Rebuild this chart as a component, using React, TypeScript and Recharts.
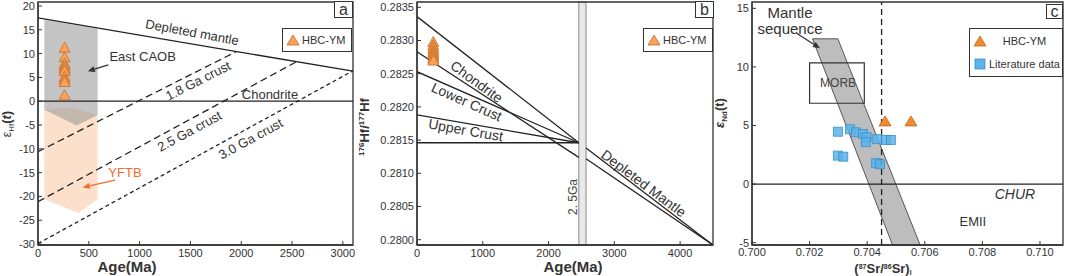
import React from 'react';
import {
  ComposedChart,
  XAxis,
  YAxis,
  Line,
  Scatter,
  ReferenceArea,
  ReferenceLine,
  ReferenceDot,
  Legend,
} from 'recharts';

const FONT = '"Liberation Sans", Arial, sans-serif';
const INK = '#333';

type Pt = { x: number; y: number };

// ---------- panel a : eHf(t) vs age ----------
const aDepletedMantle: Pt[] = [{ x: 0, y: 17.5 }, { x: 3100, y: 6.3 }];
const aChondrite: Pt[] = [{ x: 0, y: 0 }, { x: 3100, y: 0 }];
const aCrust18: Pt[] = [{ x: 0, y: -10.6 }, { x: 1954, y: 10.45 }];
const aCrust25: Pt[] = [{ x: 0, y: -21.1 }, { x: 2545, y: 8.3 }];
const aCrust30: Pt[] = [{ x: 0, y: -29.9 }, { x: 3100, y: 6.4 }];
const aEastCAOB: Pt[] = [
  { x: 62, y: 17.1 }, { x: 587, y: 15.2 }, { x: 587, y: -2.9 }, { x: 381, y: -5.1 }, { x: 62, y: -1.8 },
];
const aYFTB: Pt[] = [
  { x: 62, y: -1.8 }, { x: 331, y: -1.3 }, { x: 587, y: -2.9 }, { x: 587, y: -20.6 }, { x: 397, y: -23.5 }, { x: 62, y: -20.6 },
];
const aAge = [262, 262, 262, 262, 262, 262, 262, 262, 262, 262];
const aEpsHf = [11.0, 9.0, 7.6, 7.1, 6.6, 6.1, 4.9, 4.3, 3.8, 1.0];
const aTicksX = [0, 500, 1000, 1500, 2000, 2500, 3000];
const aTicksY = [-30, -25, -20, -15, -10, -5, 0, 5, 10, 15, 20];

// ---------- panel b : 176Hf/177Hf vs age ----------
const bDM1: Pt[] = [{ x: 0, y: 0.28336 }, { x: 2460, y: 0.28146 }];
const bDM2: Pt[] = [{ x: 2570, y: 0.28138 }, { x: 4500, y: 0.27992 }];
const bChon1: Pt[] = [{ x: 0, y: 0.28283 }, { x: 2460, y: 0.28124 }];
const bChon2: Pt[] = [{ x: 2570, y: 0.28122 }, { x: 4500, y: 0.27992 }];
const bLower: Pt[] = [{ x: 0, y: 0.28253 }, { x: 2460, y: 0.28146 }];
const bUpper: Pt[] = [{ x: 0, y: 0.28188 }, { x: 2460, y: 0.28146 }];
const bFlat: Pt[] = [{ x: 0, y: 0.28146 }, { x: 2460, y: 0.28146 }];
const bBand = [2460, 2570];
const bAge = [248, 248, 248, 248, 248, 248, 248, 248, 248];
const bHf = [0.28296, 0.28291, 0.28287, 0.28283, 0.2828, 0.28277, 0.28274, 0.28271, 0.28268];
const bTicksX = [0, 1000, 2000, 3000, 4000];
const bTicksY = [0.28, 0.2805, 0.281, 0.2815, 0.282, 0.2825, 0.283, 0.2835];

// ---------- panel c : eNd(t) vs (87Sr/86Sr)i ----------
const cChur: Pt[] = [{ x: 0.7, y: 0 }, { x: 0.7108, y: 0 }];
const cDashed: Pt[] = [{ x: 0.7045, y: -5.2 }, { x: 0.7045, y: 15.54 }];
const cMantleSeq: Pt[] = [
  { x: 0.7021, y: 12.4 }, { x: 0.70298, y: 12.4 }, { x: 0.70584, y: -5.2 }, { x: 0.70488, y: -5.2 },
];
const cMorb = { x1: 0.702, x2: 0.7039, y1: 6.9, y2: 10.35 };
const cSrHBC = [0.70462, 0.70552];
const cNdHBC = [5.25, 5.25];
const cSrLit = [0.70298, 0.7034, 0.70361, 0.70386, 0.70398, 0.70395, 0.70435, 0.70465, 0.70482, 0.70431, 0.70444, 0.70298, 0.70317];
const cNdLit = [4.47, 4.68, 4.42, 4.28, 3.99, 3.57, 3.83, 3.77, 3.77, 1.78, 1.69, 2.43, 2.34];
const cTicksX = [0.7, 0.702, 0.704, 0.706, 0.708, 0.71];
const cTicksY = [-5, 0, 5, 10, 15];

const zip = (xs: number[], ys: number[]) => xs.map((x, i) => ({ x, y: ys[i] }));

// ---------- shapes ----------
const triangle = (fill: string, stroke: string, w = 11, h = 10) => (p: any) => {
  const { cx, cy } = p;
  if (cx == null || cy == null) return <g />;
  return (
    <polygon
      points={`${cx},${cy - (h * 2) / 3} ${cx + w / 2},${cy + h / 3} ${cx - w / 2},${cy + h / 3}`}
      fill={fill}
      stroke={stroke}
      strokeWidth={0.8}
    />
  );
};

const square = (p: any) => {
  const { cx, cy } = p;
  if (cx == null || cy == null) return <g />;
  return <rect x={cx - 4.5} y={cy - 4.5} width={9} height={9} fill="#5bb3e6" fillOpacity={0.85} stroke="#3a8fd0" strokeWidth={0.8} />;
};

// polygon drawn inside the bounding ReferenceArea (scales are linear)
const polygon = (pts: Pt[], fill: string, opacity = 1, stroke = 'none') => {
  const xs = pts.map((p) => p.x);
  const ys = pts.map((p) => p.y);
  const x1 = Math.min(...xs), x2 = Math.max(...xs), y1 = Math.min(...ys), y2 = Math.max(...ys);
  return (
    <ReferenceArea
      x1={x1}
      x2={x2}
      y1={y1}
      y2={y2}
      ifOverflow="visible"
      shape={(r: any) => {
        const d = pts
          .map((p) => `${r.x + ((p.x - x1) / (x2 - x1)) * r.width},${r.y + ((y2 - p.y) / (y2 - y1)) * r.height}`)
          .join(' ');
        return <polygon points={d} fill={fill} fillOpacity={opacity} stroke={stroke} strokeWidth={0.8} />;
      }}
    />
  );
};

const arrow = (from: Pt, to: Pt, color: string) => (
  <ReferenceLine
    segment={[from, to]}
    ifOverflow="visible"
    shape={(p: any) => {
      const { x1, y1, x2, y2 } = p;
      const a = Math.atan2(y2 - y1, x2 - x1);
      const L = 7, W = 3;
      const bx = x2 - L * Math.cos(a), by = y2 - L * Math.sin(a);
      const nx = -Math.sin(a) * W, ny = Math.cos(a) * W;
      return (
        <g>
          <line x1={x1} y1={y1} x2={bx} y2={by} stroke={color} strokeWidth={1.3} />
          <polygon points={`${x2},${y2} ${bx + nx},${by + ny} ${bx - nx},${by - ny}`} fill={color} />
        </g>
      );
    }}
  />
);

const note = (x: number, y: number, text: React.ReactNode, size = 13, rot = 0, color = INK, extra: any = {}) => (
  <ReferenceDot
    x={x}
    y={y}
    r={0}
    ifOverflow="visible"
    shape={(p: any) => (
      <text
        x={p.cx}
        y={p.cy}
        transform={rot ? `rotate(${rot} ${p.cx} ${p.cy})` : undefined}
        textAnchor="middle"
        dominantBaseline="central"
        fontSize={size}
        fill={color}
        fontFamily={FONT}
        {...extra}
      >
        {text}
      </text>
    )}
  />
);

const seg = (data: Pt[], dash?: string) => (
  <Line
    data={data}
    dataKey="y"
    type="linear"
    stroke="#222"
    strokeWidth={1.3}
    strokeDasharray={dash}
    dot={false}
    activeDot={false}
    legendType="none"
    isAnimationActive={false}
  />
);

const frame = (x1: number, x2: number, y1: number, y2: number) => (
  <ReferenceArea x1={x1} x2={x2} y1={y1} y2={y2} fill="none" stroke={INK} strokeWidth={1.3} ifOverflow="visible" />
);

const tickStyle = { fontSize: 11, fill: INK, fontFamily: FONT };
const axisLine = { stroke: INK, strokeWidth: 1.3 };
const tickLine = { stroke: INK, strokeWidth: 1 };

type Row = { icon: 'tri' | 'sq'; label: string; color?: string; center?: boolean };

const legendBox = (w: number, h: number, rows: Row[]) => (
  <div
    style={{
      width: w,
      height: h,
      boxSizing: 'border-box',
      border: `1.3px solid ${INK}`,
      background: '#fff',
      display: 'flex',
      flexDirection: 'column',
      justifyContent: 'space-around',
      padding: '0 2px 0 3px',
      fontFamily: FONT,
      fontSize: 11,
      color: INK,
      whiteSpace: 'nowrap',
    }}
  >
    {rows.map((r) => (
      <div key={r.label} style={{ display: 'flex', alignItems: 'center' }}>
        <svg width={14} height={12} style={{ flex: 'none' }}>
          {r.icon === 'tri' ? (
            <polygon points="7,1 13,11 1,11" fill={r.color || '#f7a35c'} stroke="#c8691f" strokeWidth={0.8} />
          ) : (
            <rect x={2} y={1} width={10} height={10} fill="#5bb3e6" stroke="#3a8fd0" strokeWidth={0.8} />
          )}
        </svg>
        <span style={{ marginLeft: 2, flex: r.center ? 1 : undefined, textAlign: r.center ? 'center' : 'left' }}>{r.label}</span>
      </div>
    ))}
  </div>
);

function PanelA() {
  const xD: [number, number] = [0, 3100];
  const yD: [number, number] = [-30.2, 20.84];
  return (
    <ComposedChart width={355} height={276} margin={{ top: 2, right: 2, bottom: 0, left: 0 }} style={{ fontFamily: FONT }}>
      <XAxis
        type="number"
        dataKey="x"
        domain={xD}
        ticks={aTicksX}
        allowDataOverflow
        height={31}
        tick={tickStyle}
        tickSize={-4}
        tickMargin={8}
        axisLine={axisLine}
        tickLine={tickLine}
        label={{
          content: () => (
            <text x={127} y={272} textAnchor="middle" fontSize={15} fontWeight="bold" fill={INK} fontFamily={FONT}>
              Age(Ma)
            </text>
          ),
        }}
      />
      <YAxis
        type="number"
        dataKey="y"
        domain={yD}
        ticks={aTicksY}
        allowDataOverflow
        width={38}
        tick={tickStyle}
        tickSize={-4}
        tickMargin={7}
        axisLine={axisLine}
        tickLine={tickLine}
        label={{
          content: () => (
            <text transform="translate(11 124) rotate(-90)" textAnchor="middle" fill={INK} fontFamily={FONT} fontSize={12}>
              <tspan>ε</tspan>
              <tspan fontSize={8} dy={3}>Hf</tspan>
              <tspan dy={-3} fontWeight="bold" fontSize={13}>(</tspan>
              <tspan fontWeight="bold" fontStyle="italic" fontSize={13}>t</tspan>
              <tspan fontWeight="bold" fontSize={13}>)</tspan>
            </text>
          ),
        }}
      />
      {polygon(aYFTB, '#fde0cb')}
      {polygon(aEastCAOB, '#9a9a9a', 0.58)}
      {seg(aDepletedMantle)}
      {seg(aChondrite)}
      {seg(aCrust18, '7 4')}
      {seg(aCrust25, '7 4')}
      {seg(aCrust30, '4 3')}
      {note(1516, 14.5, 'Depleted mantle', 13, 10.5)}
      {note(1575, 4.3, '1.8  Ga crust', 13, -26.8)}
      {note(1490, -6.3, '2.5  Ga crust', 13, -28.4)}
      {note(2093, -7.9, '3.0  Ga crust', 13, -28.6)}
      {note(2283, 1.45, 'Chondrite', 13)}
      {note(1030, 9.35, 'East CAOB', 13)}
      {note(856, -14.93, 'YFTB', 13, 0, '#f26b2a')}
      {arrow({ x: 692, y: 7.61 }, { x: 490, y: 6.3 }, '#333')}
      {arrow({ x: 758, y: -16.55 }, { x: 440, y: -18.1 }, '#f26b2a')}
      <Scatter data={zip(aAge, aEpsHf)} dataKey="y" shape={triangle('#f7a35c', '#c8691f')} isAnimationActive={false} legendType="none" />
      {frame(xD[0], xD[1], yD[0], yD[1])}
      <Legend
        layout="horizontal"
        verticalAlign="middle"
        align="center"
        wrapperStyle={{ left: 282, top: 28, width: 70, height: 24 }}
        content={() => legendBox(70, 24, [{ icon: 'tri', label: 'HBC-YM' }])}
      />
    </ComposedChart>
  );
}

function PanelB() {
  const xD: [number, number] = [0, 4500];
  const yD: [number, number] = [0.27992, 0.28358];
  return (
    <ComposedChart width={365} height={276} margin={{ top: 2, right: 2, bottom: 0, left: 0 }} style={{ fontFamily: FONT }}>
      <XAxis
        type="number"
        dataKey="x"
        domain={xD}
        ticks={bTicksX}
        allowDataOverflow
        height={31}
        tick={tickStyle}
        tickSize={-4}
        tickMargin={8}
        axisLine={axisLine}
        tickLine={tickLine}
        label={{
          content: () => (
            <text x={223} y={272} textAnchor="middle" fontSize={15} fontWeight="bold" fill={INK} fontFamily={FONT}>
              Age(Ma)
            </text>
          ),
        }}
      />
      <YAxis
        type="number"
        dataKey="y"
        domain={yD}
        ticks={bTicksY}
        allowDataOverflow
        width={67}
        tick={tickStyle}
        tickFormatter={(v: number) => v.toFixed(4)}
        tickSize={-4}
        tickMargin={7}
        axisLine={axisLine}
        tickLine={tickLine}
        label={{
          content: () => (
            <text transform="translate(19 127) rotate(-90)" textAnchor="middle" fill={INK} fontFamily={FONT} fontSize={13} fontWeight="bold">
              <tspan fontSize={8} dy={-5}>176</tspan>
              <tspan dy={5}>Hf/</tspan>
              <tspan fontSize={8} dy={-5}>177</tspan>
              <tspan dy={5}>Hf</tspan>
            </text>
          ),
        }}
      />
      <ReferenceArea x1={bBand[0]} x2={bBand[1]} y1={yD[0]} y2={yD[1]} fill="#d3d3d3" stroke="#8a8a8a" strokeWidth={1} ifOverflow="visible" />
      {seg(bDM1)}
      {seg(bDM2)}
      {seg(bChon1)}
      {seg(bChon2)}
      {seg(bLower)}
      {seg(bUpper)}
      {seg(bFlat)}
      {note(907, 0.28238, 'Chondrite', 14, 36)}
      {note(756, 0.282078, 'Lower Crust', 14, 24)}
      {note(740, 0.281652, 'Upper Crust', 14, 10)}
      {note(3446, 0.280849, 'Depleted Mantle', 14, 37)}
      {note(2372, 0.280643, '2. 5Ga', 12, -90, '#444')}
      <Scatter data={zip(bAge, bHf)} dataKey="y" shape={triangle('#f7a35c', '#c8691f')} isAnimationActive={false} legendType="none" />
      {frame(xD[0], xD[1], yD[0], yD[1])}
      <Legend
        layout="horizontal"
        verticalAlign="middle"
        align="center"
        wrapperStyle={{ left: 293, top: 28, width: 70, height: 24 }}
        content={() => legendBox(70, 24, [{ icon: 'tri', label: 'HBC-YM' }])}
      />
    </ComposedChart>
  );
}

function PanelC() {
  const xD: [number, number] = [0.7, 0.7108];
  const yD: [number, number] = [-5.2, 15.54];
  return (
    <ComposedChart width={360} height={276} margin={{ top: 2, right: 2, bottom: 0, left: 0 }} style={{ fontFamily: FONT }}>
      <XAxis
        type="number"
        dataKey="x"
        domain={xD}
        ticks={cTicksX}
        allowDataOverflow
        height={31}
        tick={tickStyle}
        tickFormatter={(v: number) => v.toFixed(3)}
        tickSize={-4}
        tickMargin={7}
        axisLine={axisLine}
        tickLine={tickLine}
        label={{
          content: () => (
            <text x={178} y={273} textAnchor="middle" fontSize={13} fontWeight="bold" fill={INK} fontFamily={FONT}>
              <tspan>(</tspan>
              <tspan fontSize={7} dy={-4}>87</tspan>
              <tspan dy={4}>Sr/</tspan>
              <tspan fontSize={7} dy={-4}>86</tspan>
              <tspan dy={4}>Sr)</tspan>
              <tspan fontSize={7} dy={2}>i</tspan>
            </text>
          ),
        }}
      />
      <YAxis
        type="number"
        dataKey="y"
        domain={yD}
        ticks={cTicksY}
        allowDataOverflow
        width={47}
        tick={tickStyle}
        tickSize={-4}
        tickMargin={7}
        axisLine={axisLine}
        tickLine={tickLine}
        label={{
          content: () => (
            <text transform="translate(19 113) rotate(-90)" textAnchor="middle" fill={INK} fontFamily={FONT} fontSize={13} fontWeight="bold">
              <tspan fontStyle="italic">ε</tspan>
              <tspan fontSize={8} dy={3}>Nd</tspan>
              <tspan dy={-3}>(t)</tspan>
            </text>
          ),
        }}
      />
      {polygon(cMantleSeq, '#bdbdbd', 1, '#333')}
      <ReferenceArea x1={cMorb.x1} x2={cMorb.x2} y1={cMorb.y1} y2={cMorb.y2} fill="none" stroke={INK} strokeWidth={1.2} ifOverflow="visible" />
      {seg(cChur)}
      {seg(cDashed, '6 4')}
      {note(0.70299, 8.63, 'MORB', 12, 0, '#444')}
      {note(0.70132, 14.63, 'Mantle', 15)}
      {note(0.70132, 13.32, 'sequence', 15)}
      {arrow({ x: 0.70155, y: 12.87 }, { x: 0.70236, y: 11.59 }, '#333')}
      {note(0.70913, -0.84, 'CHUR', 14, 0, INK, { fontStyle: 'italic' })}
      {note(0.70767, -3.2, 'EMII', 13)}
      <Scatter data={zip(cSrLit, cNdLit)} dataKey="y" shape={square} isAnimationActive={false} legendType="none" />
      <Scatter data={zip(cSrHBC, cNdHBC)} dataKey="y" shape={triangle('#f28a2e', '#c0651a', 12, 10)} isAnimationActive={false} legendType="none" />
      {frame(xD[0], xD[1], yD[0], yD[1])}
      <Legend
        layout="horizontal"
        verticalAlign="middle"
        align="center"
        wrapperStyle={{ left: 264, top: 28, width: 94, height: 49 }}
        content={() =>
          legendBox(94, 49, [
            { icon: 'tri', label: 'HBC-YM', color: '#f28a2e', center: true },
            { icon: 'sq', label: 'Literature data' },
          ])
        }
      />
    </ComposedChart>
  );
}

const letterBox = (left: number, top: number, w: number, h: number, t: string) => (
  <div
    style={{
      position: 'absolute',
      left,
      top,
      width: w,
      height: h,
      boxSizing: 'border-box',
      border: `1.3px solid ${INK}`,
      background: '#fff',
      fontFamily: FONT,
      fontSize: 16,
      lineHeight: `${h - 2}px`,
      textAlign: 'center',
      color: INK,
    }}
  >
    {t}
  </div>
);

export default function App() {
  return (
    <div style={{ position: 'absolute', left: 0, top: 0, width: 1065, height: 276, background: '#fff', overflow: 'hidden' }}>
      <div style={{ position: 'absolute', left: 0, top: 0 }}>
        <PanelA />
      </div>
      <div style={{ position: 'absolute', left: 350, top: 0 }}>
        <PanelB />
      </div>
      <div style={{ position: 'absolute', left: 705, top: 0 }}>
        <PanelC />
      </div>
      {letterBox(334, 1, 19, 17, 'a')}
      {letterBox(695, 1, 19, 17, 'b')}
      {letterBox(1046, 4, 17, 15, 'c')}
    </div>
  );
}
